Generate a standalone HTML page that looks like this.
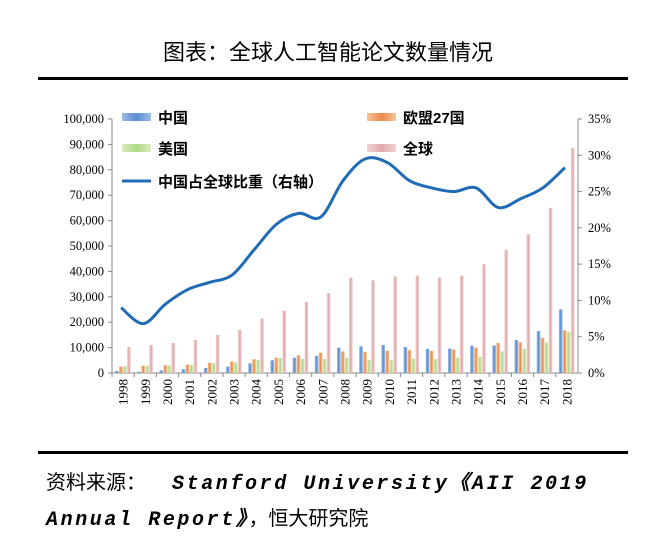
<!DOCTYPE html>
<html><head><meta charset="utf-8">
<style>
body{margin:0;width:656px;height:540px;background:#fff;overflow:hidden;font-family:"Liberation Sans","Noto Sans CJK SC",sans-serif;}
.t{position:absolute;}
</style></head><body>
<div class="t" style="left:0;width:656px;top:35px;text-align:center;font-size:22px;color:#000;">图表：全球人工智能论文数量情况</div>
<div class="t" style="left:38px;width:590px;top:77px;height:3px;background:#000;"></div>
<div class="t" style="left:38px;width:590px;top:451px;height:3px;background:#000;"></div>
<div class="t" style="left:46px;top:466px;font-size:20px;line-height:35px;color:#000;"><span style="display:inline-block;width:126px;">资料来源：</span><i style="font-family:'Liberation Mono',monospace;font-weight:bold;letter-spacing:2.6px;">Stanford University《AII 2019<br>Annual Report》</i>，恒大研究院</div>
<svg id="chart" width="656" height="540" style="position:absolute;left:0;top:0" xmlns="http://www.w3.org/2000/svg">
<defs>
<linearGradient id="gC" x1="0" x2="1"><stop offset="0" stop-color="#9cbde6"/><stop offset="0.5" stop-color="#5b8fd0"/><stop offset="1" stop-color="#9cbde6"/></linearGradient>
<linearGradient id="gE" x1="0" x2="1"><stop offset="0" stop-color="#f6c39a"/><stop offset="0.5" stop-color="#ec8a4c"/><stop offset="1" stop-color="#f6c39a"/></linearGradient>
<linearGradient id="gU" x1="0" x2="1"><stop offset="0" stop-color="#d9ecbd"/><stop offset="0.5" stop-color="#b0d88a"/><stop offset="1" stop-color="#d9ecbd"/></linearGradient>
<linearGradient id="gG" x1="0" x2="1"><stop offset="0" stop-color="#f2d3d3"/><stop offset="0.5" stop-color="#e0a9aa"/><stop offset="1" stop-color="#f2d3d3"/></linearGradient>
</defs>
</svg>
<script>
const years=['1998','1999','2000','2001','2002','2003','2004','2005','2006','2007','2008','2009','2010','2011','2012','2013','2014','2015','2016','2017','2018'];
const china=[800,500,1000,1500,2000,2500,3800,5000,6000,6800,10000,10500,11000,10200,9500,9600,10800,10800,13000,16500,25000];
const eu=[2500,2800,3000,3300,4000,4500,5400,6000,7000,8000,8500,8200,8800,9000,8700,9200,10000,11800,12100,13800,16800];
const us=[2700,2800,3000,3200,3800,4200,5000,5800,5500,5500,6000,5200,5000,5600,5500,6000,6500,8500,9500,12000,16200];
const world=[10200,11000,11800,13000,15000,17000,21500,24500,28000,31500,37500,36500,38000,38300,37500,38300,42800,48500,54600,65000,88500];
const share=[9,6.8,9.5,11.5,12.5,13.5,17,20.5,22,21.5,26.5,29.5,29,26.5,25.5,25,25.5,22.8,24,25.5,28.3];
const leftTicks=[0,10000,20000,30000,40000,50000,60000,70000,80000,90000,100000];
const rightTicks=[0,5,10,15,20,25,30,35];
const NS='http://www.w3.org/2000/svg';
const svg=document.getElementById('chart');
const X0=112,X1=578,Y0=373,Y1=119;
const bw=(X1-X0)/years.length;
const yL=v=>Y0-(v/100000)*(Y0-Y1);
const yR=v=>Y0-(v/35)*(Y0-Y1);
const xc=i=>X0+bw*(i+0.5);
function mk(tag,attrs){const e=document.createElementNS(NS,tag);for(const k in attrs)e.setAttribute(k,attrs[k]);svg.appendChild(e);return e;}
const serif='"Liberation Serif",serif';
let a=mk('line',{x1:X0,y1:Y1,x2:X0,y2:Y0,stroke:'#888','stroke-width':1});


a=mk('line',{x1:X1,y1:Y1,x2:X1,y2:Y0,stroke:'#888','stroke-width':1});


a=mk('line',{x1:X0,y1:Y0,x2:X1,y2:Y0,stroke:'#888','stroke-width':1});


leftTicks.forEach(v=>{
  const y=yL(v);
  mk('line',{x1:X0-4,y1:y,x2:X0,y2:y,stroke:'#888'});
  const t=mk('text',{x:X0-8,y:y+4,'text-anchor':'end','font-size':12.5,'font-family':serif});
  t.textContent=v.toLocaleString('en-US');
  
  
});
rightTicks.forEach(v=>{
  const y=yR(v);
  mk('line',{x1:X1,y1:y,x2:X1+4,y2:y,stroke:'#888'});
  const t=mk('text',{x:X1+10,y:y+4,'font-size':12.5,'font-family':serif});
  t.textContent=v+'%';
  
  
});
years.forEach((yr,i)=>{
  mk('line',{x1:X0+bw*i,y1:Y0,x2:X0+bw*i,y2:Y0+4,stroke:'#888'});
  const t=mk('text',{x:0,y:0,'font-size':13,'font-family':serif,'text-anchor':'end',transform:`translate(${xc(i)+4.5},${Y0+6}) rotate(-90)`});
  t.textContent=yr;
  
  
});
const series=[[china,'url(#gC)','bar-china'],[eu,'url(#gE)','bar-eu'],[us,'url(#gU)','bar-us'],[world,'url(#gG)','bar-world']];
series.forEach((s,k)=>{
  s[0].forEach((v,i)=>{
    const x=xc(i)-8+k*4;
    const r=mk('rect',{x:x,y:yL(v),width:3.6,height:Y0-yL(v),fill:s[1]});
    
    
  });
});
const pts=share.map((v,i)=>[xc(i)-2,yR(v)]);
let d='M'+pts[0][0]+','+pts[0][1];
for(let i=0;i<pts.length-1;i++){
  const p0=pts[Math.max(i-1,0)],p1=pts[i],p2=pts[i+1],p3=pts[Math.min(i+2,pts.length-1)];
  const c1=[p1[0]+(p2[0]-p0[0])/6,p1[1]+(p2[1]-p0[1])/6];
  const c2=[p2[0]-(p3[0]-p1[0])/6,p2[1]-(p3[1]-p1[1])/6];
  d+=` C${c1[0]},${c1[1]} ${c2[0]},${c2[1]} ${p2[0]},${p2[1]}`;
}
const ln=mk('path',{d:d,fill:'none',stroke:'#1f6bb5','stroke-width':3});


const leg=[[122,117,'url(#gC)','中国','legend-china'],[367,117,'url(#gE)','欧盟27国','legend-eu'],[122,148,'url(#gU)','美国','legend-us'],[367,148,'url(#gG)','全球','legend-world']];
leg.forEach(l=>{
  const r=mk('rect',{x:l[0],y:l[1]-4,width:29,height:8,fill:l[2]});
  
  
  const t=mk('text',{x:l[0]+36,y:l[1]+6,'font-size':15,'font-weight':'bold','font-family':'"Liberation Sans","Noto Sans CJK SC",sans-serif'});
  t.textContent=l[3];
  
  
});
const ll=mk('line',{x1:122,y1:181,x2:151,y2:181,stroke:'#1f6bb5','stroke-width':3});


const lt=mk('text',{x:158,y:187,'font-size':15,'font-weight':'bold','font-family':'"Liberation Sans","Noto Sans CJK SC",sans-serif'});
lt.textContent='中国占全球比重（右轴）';


</script>
</body></html>
